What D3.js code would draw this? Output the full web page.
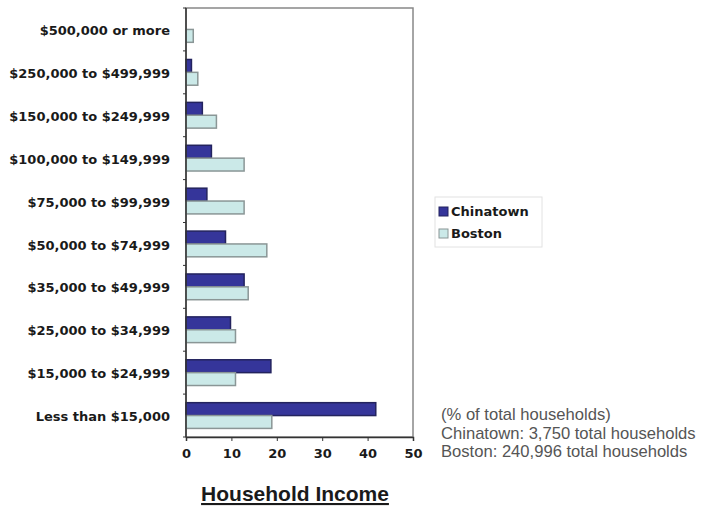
<!DOCTYPE html>
<html>
<head>
<meta charset="utf-8">
<script src="https://cdn.jsdelivr.net/npm/d3@7"></script>
<style>
  body { margin: 0; background: #fff; }
  svg { display: block; }
</style>
</head>
<body>
<script>
// income brackets, top to bottom
var categories = ["$500,000 or more", "$250,000 to $499,999", "$150,000 to $249,999",
  "$100,000 to $149,999", "$75,000 to $99,999", "$50,000 to $74,999",
  "$35,000 to $49,999", "$25,000 to $34,999", "$15,000 to $24,999", "Less than $15,000"];
var chinatown = [0, 1.2, 3.6, 5.6, 4.6, 8.7, 12.8, 9.8, 18.7, 41.8];
var boston = [1.6, 2.6, 6.7, 12.8, 12.8, 17.8, 13.7, 10.9, 10.9, 18.9];
var seriesNames = ["Chinatown", "Boston"];
var xTicks = [0, 10, 20, 30, 40, 50];
var notes = ["(% of total households)", "Chinatown: 3,750 total households", "Boston: 240,996 total households"];

var colors = {Chinatown: "#35359a", Boston: "#cbe9e8"};
var strokes = {Chinatown: "#23235e", Boston: "#8a9696"};
var boldFont = "bold 13px 'DejaVu Sans', Verdana, sans-serif";

var W = 702, H = 507;
var margin = {top: 8, left: 186, right: 289, bottom: 70};
var width = W - margin.left - margin.right,
    height = H - margin.top - margin.bottom;

var svg = d3.select("body").append("svg")
    .attr("width", W)
    .attr("height", H);

var g = svg.append("g")
    .attr("transform", "translate(" + margin.left + "," + margin.top + ")");

var x = d3.scaleLinear().domain([0, 50]).range([0, width]);
var y = d3.scaleBand().domain(categories).range([0, height]).paddingInner(0.4).paddingOuter(0.2);
var ySub = d3.scaleBand().domain(seriesNames).range([0, y.bandwidth()]);

// plot frame
g.append("rect")
    .attr("width", width).attr("height", height)
    .attr("fill", "#fff").attr("stroke", "#888").attr("stroke-width", 1.5);

var rows = categories.map(function(c, i) {
  return {cat: c, vals: [{k: "Chinatown", v: chinatown[i]}, {k: "Boston", v: boston[i]}]};
});

var groups = g.selectAll(".row").data(rows).enter().append("g")
    .attr("transform", function(d) { return "translate(0," + y(d.cat) + ")"; });

groups.selectAll("rect").data(function(d) { return d.vals.filter(function(e) { return e.v > 0; }); })
  .enter().append("rect")
    .attr("x", x(0))
    .attr("y", function(d) { return ySub(d.k); })
    .attr("width", function(d) { return x(d.v) - x(0); })
    .attr("height", ySub.bandwidth())
    .attr("fill", function(d) { return colors[d.k]; })
    .attr("stroke", function(d) { return strokes[d.k]; })
    .attr("stroke-width", 1.5);

// y axis: ticks at band boundaries
var yAxis = g.append("g");
yAxis.append("line").attr("x1", 0).attr("x2", 0).attr("y1", 0).attr("y2", height)
    .attr("stroke", "#333").attr("stroke-width", 1.5);
yAxis.selectAll(".yt").data(d3.range(categories.length + 1)).enter().append("line")
    .attr("x1", -3).attr("x2", 0)
    .attr("y1", function(i) { return i * height / categories.length; })
    .attr("y2", function(i) { return i * height / categories.length; })
    .attr("stroke", "#333");
yAxis.selectAll(".yl").data(categories).enter().append("text")
    .attr("x", -16)
    .attr("y", function(d) { return y(d) + y.bandwidth() / 2 + 1; })
    .attr("dy", "0.35em")
    .attr("text-anchor", "end")
    .style("font", boldFont)
    .style("fill", "#1a1a1a")
    .text(function(d) { return d; });

// x axis
var xAxis = g.append("g").attr("transform", "translate(0," + height + ")")
    .call(d3.axisBottom(x).tickValues(xTicks).tickSize(4).tickPadding(8));
xAxis.select(".domain").attr("stroke", "#333").attr("stroke-width", 1.5);
xAxis.selectAll("line").attr("stroke", "#333");
xAxis.selectAll("text")
    .style("font", boldFont)
    .style("fill", "#1a1a1a");

// title
svg.append("text")
    .attr("x", 295)
    .attr("y", 501)
    .attr("text-anchor", "middle")
    .style("font", "bold 21px 'Liberation Sans', Arial, sans-serif")
    .style("text-decoration", "underline")
    .style("fill", "#1a1a1a")
    .text("Household Income");

// legend
var lg = svg.append("g").attr("transform", "translate(435,197)");
lg.append("rect").attr("width", 107).attr("height", 50)
    .attr("fill", "#fff").attr("stroke", "#e2e2e2");
seriesNames.forEach(function(s, i) {
  lg.append("rect").attr("x", 4).attr("y", 10 + i * 22)
      .attr("width", 9).attr("height", 9)
      .attr("fill", colors[s]).attr("stroke", strokes[s]);
  lg.append("text").attr("x", 16).attr("y", 19 + i * 22)
      .style("font", boldFont)
      .style("fill", "#1a1a1a")
      .text(s);
});

// notes
svg.selectAll(".note").data(notes).enter().append("text")
    .attr("x", 441)
    .attr("y", function(d, i) { return 420 + i * 18.5; })
    .style("font", "16.6px 'Liberation Sans', Arial, sans-serif")
    .style("fill", "#555")
    .text(function(d) { return d; });
</script>
</body>
</html>
